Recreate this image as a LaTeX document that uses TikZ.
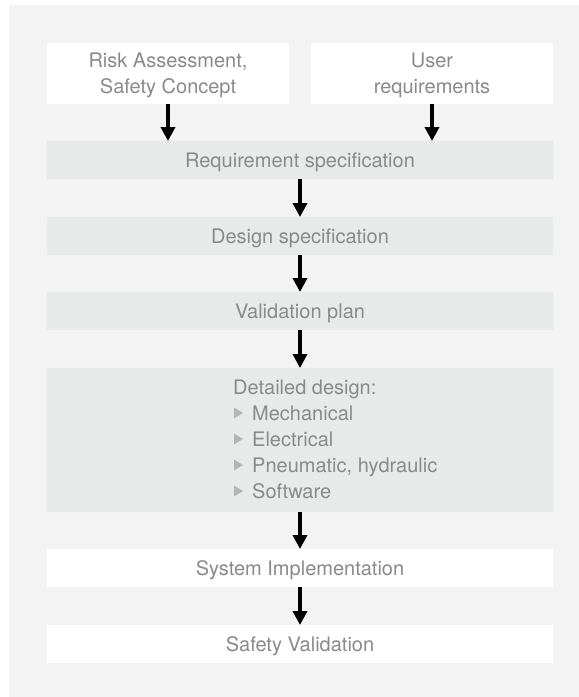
\documentclass[tikz,border=0pt]{standalone}
\usepackage{fontspec}
\setmainfont{TeX Gyre Heros}
\usetikzlibrary{arrows.meta}
\definecolor{panel}{HTML}{F3F3F3}
\definecolor{boxgrey}{HTML}{E8E9E9}
\definecolor{txtgrey}{HTML}{8A8A8A}
\definecolor{bulletgrey}{HTML}{B4B4B4}
\begin{document}
\begin{tikzpicture}[x=1pt,y=-1pt,
  box/.style={rectangle,draw=none,inner sep=0pt,outer sep=0pt},
  greybox/.style={box,fill=boxgrey},
  whitebox/.style={box,fill=white},
  txt/.style={text=txtgrey,font=\fontsize{20}{26}\selectfont,inner sep=0pt,anchor=base},
  flow/.style={line width=3.5pt,-{Triangle[width=14pt,length=14pt]}}]
\useasboundingbox (0,0) rectangle (579,697);
\fill[white] (0,0) rectangle (579,697);
\fill[panel] (9,5) rectangle (579,697);
% boxes
\node[whitebox,minimum width=242pt,minimum height=61pt] (risk) at (168,73.5) {};
\node[whitebox,minimum width=242pt,minimum height=61pt] (user) at (432,73.5) {};
\node[greybox,minimum width=506pt,minimum height=38pt] (req) at (300,160) {};
\node[greybox,minimum width=506pt,minimum height=38pt] (des) at (300,236) {};
\node[greybox,minimum width=506pt,minimum height=38pt] (val) at (300,311) {};
\node[greybox,minimum width=506pt,minimum height=144pt] (det) at (300,440) {};
\node[whitebox,minimum width=506pt,minimum height=38pt] (impl) at (300,568) {};
\node[whitebox,minimum width=506pt,minimum height=38pt] (safe) at (300,644) {};
% texts
\node[txt] (t1) at (168,67.5) {Risk Assessment,};
\node[txt] (t2) at (168,93.5) {Safety Concept};
\node[txt] (t3) at (432,67.5) {User};
\node[txt] (t4) at (432,93.5) {requirements};
\node[txt] (t5) at (300,167.3) {Requirement specification};
\node[txt] (t6) at (300,243.3) {Design specification};
\node[txt] (t7) at (300,318.3) {Validation plan};
\node[txt,anchor=base west] (t8) at (233,394) {Detailed design:};
\node[txt,anchor=base west] (t9) at (252,420) {Mechanical};
\node[txt,anchor=base west] (t10) at (252,446) {Electrical};
\node[txt,anchor=base west] (t11) at (252,472) {Pneumatic, hydraulic};
\node[txt,anchor=base west] (t12) at (252,498) {Software};
\node[txt] (t13) at (300,575.3) {System Implementation};
\node[txt] (t14) at (300,651.3) {Safety Validation};
\foreach \b in {420,446,472,498}{
  \fill[bulletgrey] (234,\b-12.5) -- (243,\b-7) -- (234,\b-1.5) -- cycle;
}
% arrows
\draw[flow] (risk.south) -- (risk.south |- req.north);
\draw[flow] (user.south) -- (user.south |- req.north);
\draw[flow] (req.south) -- (des.north);
\draw[flow] (des.south) -- (val.north);
\draw[flow] (val.south) -- (det.north);
\draw[flow] (det.south) -- (impl.north);
\draw[flow] (impl.south) -- (safe.north);
\end{tikzpicture}
\end{document}
